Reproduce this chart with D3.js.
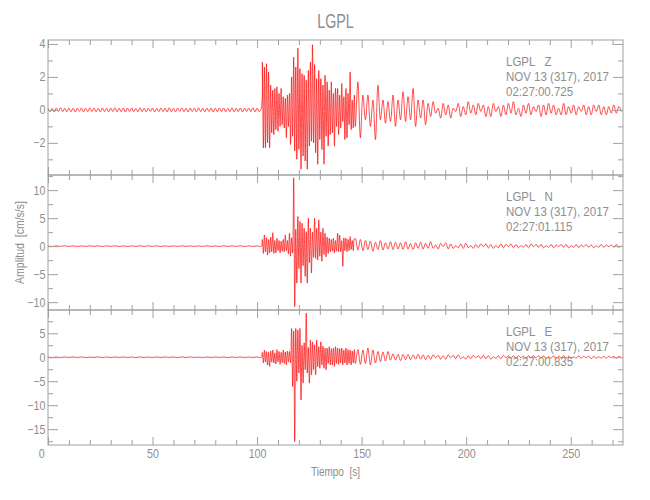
<!DOCTYPE html>
<html><head><meta charset="utf-8">
<script src="https://cdn.jsdelivr.net/npm/d3@7"></script>
<style>
html,body{margin:0;padding:0;background:#fff;}
text{font-family:"Liberation Sans",Arial,sans-serif;fill:#8e8e8e;}
</style></head><body>
<svg id="chart" width="650" height="500"></svg>
<script>
// ---------------- data ----------------
const chartTitle = "LGPL";
const xLabel = "Tiempo  [s]";
const yLabel = "Amplitud  [cm/s/s]";
const xDomain = [0, 275];
const xMajorTicks = [0, 50, 100, 150, 200, 250];
const xMinorStep = 10;

const channels = ["Z", "N", "E"];
const stationLines = [
  ["LGPL   Z", "NOV 13 (317), 2017", "02:27:00.725"],
  ["LGPL   N", "NOV 13 (317), 2017", "02:27:01.115"],
  ["LGPL   E", "NOV 13 (317), 2017", "02:27:00.835"]
];
const yDomains = [[-3.95, 4.24], [-11.4, 12.7], [-18.3, 9.85]];
const yMajorTicks = [[-2, 0, 2, 4], [-10, -5, 0, 5, 10], [-15, -10, -5, 0, 5]];
const yMinorTicks = [[-3, -1, 1, 3], [-7.5, -2.5, 2.5, 7.5, 12.5], [-17.5, -12.5, -7.5, -2.5, 2.5, 7.5]];

const noiseStart = 0, burstStart = 102.5, burstStep = 0.5, codaStep = 1.2;
const zNoiseStep = 1, nNoiseStep = 2, eNoiseStep = 2;

const zNoise = [0.11,-0.12,0.09,-0.13,0.12,-0.1,0.13,-0.11,0.1,-0.12,
 0.12,-0.11,0.1,-0.13,0.11,-0.09,0.12,-0.12,0.1,-0.11,
 0.13,-0.1,0.11,-0.12,0.09,-0.13,0.12,-0.11,0.1,-0.12,
 0.11,-0.1,0.13,-0.12,0.1,-0.11,0.12,-0.13,0.11,-0.1,
 0.12,-0.11,0.09,-0.12,0.13,-0.11,0.1,-0.12,0.11,-0.1,
 0.12,-0.13,0.1,-0.11,0.12,-0.1,0.11,-0.12,0.13,-0.11,
 0.1,-0.12,0.11,-0.09,0.12,-0.11,0.1,-0.13,0.12,-0.1,
 0.11,-0.12,0.13,-0.11,0.1,-0.12,0.11,-0.1,0.12,-0.13,
 0.1,-0.11,0.12,-0.1,0.11,-0.12,0.09,-0.11,0.13,-0.12,
 0.1,-0.11,0.12,-0.13,0.11,-0.1,0.12,-0.11,0.13,-0.12,
 0.11,-0.1,0.09];
const zBurst = [2.9,-2.3,2.6,-2.3,2.8,-2.0,2.3,-2.3,1.5,-1.4,
 1.2,-1.5,1.3,-1.2,1.4,-1.3,1.0,-1.0,1.3,-0.9,
 0.8,-1.1,0.7,-1.7,0.9,-1.0,1.0,-2.1,2.0,-1.6,
 3.2,-2.5,2.6,-3.0,3.75,-2.4,2.5,-3.6,2.2,-2.8,
 2.1,-3.1,1.8,-3.6,2.4,-2.2,2.9,-1.9,3.95,-2.0,
 2.75,-2.6,1.9,-3.3,2.4,-1.8,1.9,-2.4,1.5,-3.3,
 2.1,-1.6,1.7,-2.2,1.2,-1.5,1.7,-1.4,1.0,-2.2,
 1.3,-1.0,1.3,-1.5,0.9,-1.1,1.6,-0.7,0.8,-1.8,
 1.3,-1.7,1.0,-0.9,2.3,-1.2,0.6,-1.1,0.9];
const zCoda = [-1.0,1.7,-1.7,0.9,-0.6,0.9,-1.0,0.6,-1.8,1.5,
 -0.6,0.6,-0.8,0.5,-0.7,0.9,-1.0,0.6,-0.6,1.1,
 -0.7,0.8,-0.6,1.3,-1.0,0.6,-0.5,0.6,-0.9,0.4,
 -0.4,0.5,-0.2,0.1,-0.5,0.4,-0.3,0.3,-0.5,0.1,
 -0.1,0.4,-0.4,0.2,-0.3,0.5,-0.2,0.3,-0.3,0.4,
 -0.1,0.3,-0.4,0.2,-0.4,0.4,-0.1,0.2,-0.4,0.3,
 -0.3,0.4,-0.2,0.5,-0.3,0.1,-0.4,0.3,-0.2,0.4,
 -0.3,0.2,-0.1,0.3,-0.4,0.3,-0.3,0.4,-0.2,0.3,
 -0.3,0.1,-0.3,0.4,-0.3,0.2,-0.2,0.3,-0.3,0.2,
 -0.1,0.3,-0.3,0.2,-0.3,0.3,-0.1,0.3,-0.3,0.2,
 -0.3,0.2,-0.2,0.3,-0.2,0.2,-0.1];

const nNoise = [0.05,-0.06,0.04,-0.05,0.06,-0.04,0.05,-0.06,0.04,-0.05,
 0.06,-0.04,0.05,-0.06,0.05,-0.04,0.06,-0.05,0.04,-0.06,
 0.05,-0.04,0.06,-0.05,0.06,-0.04,0.05,-0.06,0.04,-0.06,
 0.05,-0.05,0.06,-0.04,0.05,-0.06,0.04,-0.05,0.06,-0.05,
 0.04,-0.06,0.06,-0.05,0.05,-0.04,0.06,-0.06,0.05,-0.04,
 0.05,-0.05];
const nBurst = [1.2,-1.3,2.0,-1.0,1.5,-1.6,1.2,-1.2,1.6,-1.0,
 2.4,-1.3,1.0,-1.2,1.4,-0.8,1.0,-1.2,0.9,-0.9,
 1.2,-1.0,2.0,-0.8,1.0,-1.4,2.3,-1.8,1.5,-1.2,
 12.2,-10.8,3.0,-6.6,5.3,-4.0,4.4,-6.6,4.1,-3.5,
 3.2,-5.4,2.6,-6.6,5.0,-3.0,3.2,-4.8,2.5,-2.0,
 5.0,-2.2,3.2,-2.5,4.7,-1.8,2.5,-2.7,3.2,-1.5,
 2.3,-1.9,1.6,-1.3,1.4,-1.0,1.2,-0.9,1.4,-1.2,
 1.0,-0.9,2.3,-1.0,2.0,-1.0,1.0,-3.6,1.5,-0.8,
 1.4,-1.0,1.2,-0.8,1.7,-0.6,1.0,-0.8,1.3];
const nCoda = [1.4,-0.7,1.2,-0.8,1.0,-0.6,0.9,-0.9,0.7,-0.6,
 1.0,-0.7,0.6,-0.5,0.8,-0.6,0.7,-0.5,0.6,-0.6,
 0.8,-0.5,0.5,-0.6,0.6,-0.4,0.7,-0.5,0.5,-0.4,
 0.8,-0.4,0.2,-0.5,0.5,-0.1,0.6,-0.5,0.4,-0.4,
 0.1,-0.3,0.4,-0.4,0.5,-0.3,0.1,-0.4,0.3,-0.3,
 0.4,-0.1,0.4,-0.3,0.3,-0.4,0.1,-0.3,0.4,-0.3,
 0.3,-0.1,0.4,-0.3,0.3,-0.3,0.1,-0.2,0.3,-0.3,
 0.4,-0.1,0.3,-0.2,0.3,-0.3,0.1,-0.2,0.3,-0.3,
 0.2,-0.1,0.3,-0.2,0.3,-0.3,0.1,-0.2,0.3,-0.3,
 0.2,-0.1,0.3,-0.2,0.2,-0.3,0.1,-0.2,0.3,-0.2,
 0.2,-0.1,0.2,-0.2,0.3,-0.2,0.1];

const eNoise = [0.06,-0.05,0.05,-0.07,0.06,-0.04,0.06,-0.05,0.05,-0.06,
 0.04,-0.05,0.07,-0.06,0.05,-0.06,0.06,-0.04,0.06,-0.05,
 0.05,-0.07,0.06,-0.05,0.04,-0.06,0.06,-0.05,0.06,-0.04,
 0.05,-0.06,0.07,-0.05,0.06,-0.06,0.04,-0.06,0.05,-0.05,
 0.06,-0.04,0.05,-0.07,0.06,-0.05,0.06,-0.06,0.04,-0.05,
 0.06,-0.05];
const eBurst = [1.0,-1.2,1.5,-1.0,1.2,-1.6,1.0,-1.9,1.3,-1.0,
 1.5,-1.2,0.9,-1.4,1.6,-1.0,1.2,-1.5,1.0,-1.1,
 1.5,-1.3,1.1,-1.6,1.3,-1.0,1.2,-1.2,6.0,-6.1,
 5.5,-17.6,6.0,-5.0,5.7,-3.3,6.0,-8.9,2.5,-5.4,
 3.0,-2.6,9.2,-3.3,2.0,-5.4,3.6,-3.7,3.2,-2.6,
 2.6,-3.7,3.6,-2.0,2.2,-2.3,3.2,-1.6,2.3,-2.3,
 1.9,-2.6,1.9,-1.3,2.2,-1.6,1.8,-1.6,1.9,-1.9,
 2.2,-1.3,1.9,-1.5,1.8,-1.2,1.9,-1.6,1.5,-1.2,
 1.9,-1.6,1.6,-1.3,1.5,-1.6,1.3,-1.2,1.6];
const eCoda = [-1.3,1.6,-1.5,1.5,-1.3,1.9,-1.6,1.5,-1.2,1.2,
 -0.9,1.1,-0.8,1.2,-0.6,0.7,-0.6,0.6,-0.7,0.6,
 -0.5,0.6,-0.5,0.5,-0.4,0.6,-0.4,0.5,-0.5,0.4,
 -0.4,0.5,-0.1,0.4,-0.4,0.3,-0.4,0.5,-0.1,0.4,
 -0.3,0.5,-0.3,0.1,-0.4,0.3,-0.3,0.4,-0.1,0.3,
 -0.3,0.4,-0.3,0.3,-0.4,0.1,-0.2,0.3,-0.3,0.4,
 -0.1,0.3,-0.2,0.3,-0.3,0.3,-0.1,0.2,-0.3,0.3,
 -0.2,0.3,-0.1,0.3,-0.2,0.3,-0.3,0.1,-0.2,0.3,
 -0.3,0.2,-0.1,0.3,-0.2,0.2,-0.3,0.1,-0.2,0.3,
 -0.2,0.2,-0.1,0.2,-0.3,0.2,-0.2,0.1,-0.2,0.2,
 -0.2,0.2,-0.1,0.2,-0.2,0.2,-0.1];

const traces = [
  {noise: zNoise, noiseStep: zNoiseStep, burst: zBurst, coda: zCoda},
  {noise: nNoise, noiseStep: nNoiseStep, burst: nBurst, coda: nCoda},
  {noise: eNoise, noiseStep: eNoiseStep, burst: eBurst, coda: eCoda}
];

// ---------------- layout ----------------
const svg = d3.select("#chart");
const left = 48, right = 623;
const panelTop = 40, panelH = 135;
const traceColor = "#ff0000";
const axisColor = "#a0a0a0";
const textColor = "#8e8e8e";
const narrow = 0.82; // horizontal squeeze to mimic the narrow stroke font

const x = d3.scaleLinear().domain(xDomain).range([left, right]);
const xMinor = d3.range(xDomain[0], xDomain[1] + 0.001, xMinorStep).filter(v => !xMajorTicks.includes(v));

function buildSeries(tr) {
  const pts = [];
  tr.noise.forEach((v, i) => pts.push([noiseStart + i * tr.noiseStep, v]));
  tr.burst.forEach((v, i) => pts.push([burstStart + i * burstStep, v]));
  const codaStart = burstStart + tr.burst.length * burstStep;
  tr.coda.forEach((v, i) => pts.push([codaStart + i * codaStep, v]));
  return pts.filter(p => p[0] <= xDomain[1]);
}

function label(parent, px, py, str, size, anchor, rot, sx) {
  const g = parent.append("g")
    .attr("transform", `translate(${px},${py}) rotate(${rot || 0}) scale(${sx || narrow},1)`);
  return g.append("text").attr("text-anchor", anchor || "start")
    .style("font-size", size + "px").style("white-space", "pre").attr("fill", textColor).text(str);
}

const defs = svg.append("defs");

channels.forEach((ch, k) => {
  const top = panelTop + k * panelH, bottom = top + panelH;
  const y = d3.scaleLinear().domain(yDomains[k]).range([bottom, top]);
  const g = svg.append("g");

  defs.append("clipPath").attr("id", "clip" + k)
    .append("rect").attr("x", left).attr("y", top).attr("width", right - left).attr("height", panelH);

  // trace
  const line = d3.line().x(d => x(d[0])).y(d => y(d[1])).curve(d3.curveCatmullRom.alpha(0.5));
  g.append("path")
    .datum(buildSeries(traces[k]))
    .attr("clip-path", "url(#clip" + k + ")")
    .attr("fill", "none")
    .attr("stroke", traceColor)
    .attr("stroke-width", 0.7)
    .attr("d", line);

  // frame
  g.append("rect").attr("x", left).attr("y", top).attr("width", right - left).attr("height", panelH)
    .attr("fill", "none").attr("stroke", axisColor).attr("stroke-width", 1);

  // y axes
  g.append("g").attr("transform", `translate(${left},0)`)
    .call(d3.axisLeft(y).tickValues(yMajorTicks[k]).tickSize(-10).tickPadding(3)
      .tickFormat(d => d < 0 ? "\u2212" + Math.abs(d) : String(d)));
  g.append("g").attr("transform", `translate(${left},0)`)
    .call(d3.axisLeft(y).tickValues(yMinorTicks[k]).tickSize(-5).tickFormat(""));
  g.append("g").attr("transform", `translate(${right},0)`)
    .call(d3.axisRight(y).tickValues(yMajorTicks[k]).tickSize(-10).tickFormat(""));
  g.append("g").attr("transform", `translate(${right},0)`)
    .call(d3.axisRight(y).tickValues(yMinorTicks[k]).tickSize(-5).tickFormat(""));

  // x axes
  g.append("g").attr("transform", `translate(0,${top})`)
    .call(d3.axisTop(x).tickValues(xMajorTicks).tickSize(-8).tickFormat(""));
  g.append("g").attr("transform", `translate(0,${top})`)
    .call(d3.axisTop(x).tickValues(xMinor).tickSize(-5).tickFormat(""));
  g.append("g").attr("class", "xbottom").attr("transform", `translate(0,${bottom})`)
    .call(d3.axisBottom(x).tickValues(xMajorTicks).tickSize(-8).tickPadding(4)
      .tickFormat(k === channels.length - 1 ? d3.format("d") : ""));
  g.append("g").attr("transform", `translate(0,${bottom})`)
    .call(d3.axisBottom(x).tickValues(xMinor).tickSize(-5).tickFormat(""));

  g.selectAll(".domain").remove();
  g.selectAll(".tick line").attr("stroke", axisColor);
  g.selectAll(".tick text").attr("fill", textColor).style("font-size", "12.5px")
    .style("font-family", '"Liberation Sans",Arial,sans-serif')
    .attr("transform", "scale(0.86,1)");
  // the first time label sits slightly left of the axis corner
  g.selectAll(".xbottom .tick text").filter(d => d === 0).attr("dx", -8);

  // station annotation
  stationLines[k].forEach((s, i) => {
    label(g, 506, top + 26 + i * 14.8, s, 12.8, "start", 0, 0.9);
  });
});

// titles
label(svg, (left + right) / 2, 28, chartTitle, 21, "middle", 0, 0.68);
label(svg, (left + right) / 2, 476, xLabel, 12.5, "middle", 0, 0.8);
label(svg, 24, panelTop + 1.5 * panelH, yLabel, 12.5, "middle", -90, 0.84);
</script>
</body></html>
